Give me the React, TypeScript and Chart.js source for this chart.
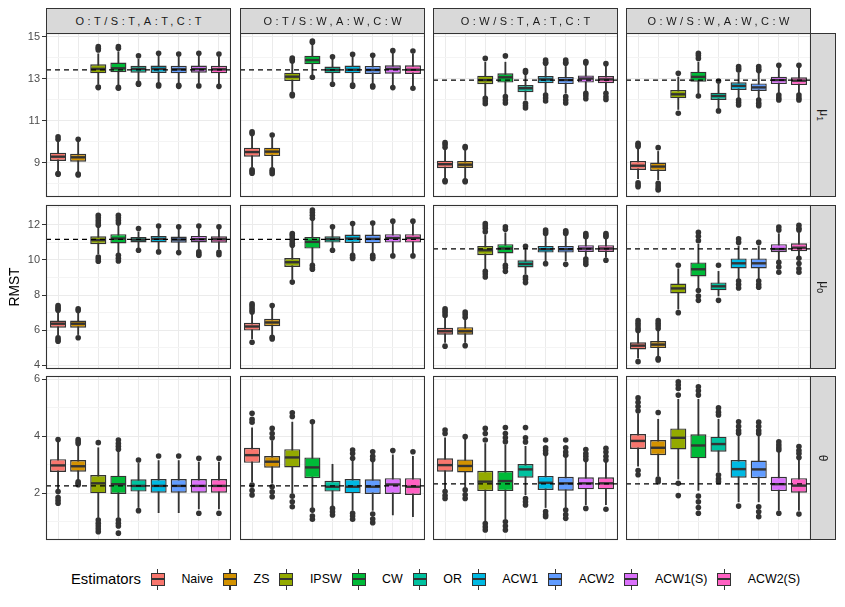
import React, { useEffect, useRef } from "react";
import { Chart, registerables } from "chart.js";

Chart.register(...registerables);
Chart.defaults.font.family = "'Liberation Sans', Arial, sans-serif";

// ---------- data ----------
const estimators = ["Naive", "ZS", "IPSW", "CW", "OR", "ACW1", "ACW2", "ACW1(S)", "ACW2(S)"];
const colors = ["#F8766D", "#D39200", "#93AA00", "#00BA38", "#00C19F", "#00B9E3", "#619CFF", "#DB72FB", "#FF61C3"];
const colLabels = ["O:T/S:T,A:T,C:T", "O:T/S:W,A:W,C:W", "O:W/S:T,A:T,C:T", "O:W/S:W,A:W,C:W"];
const rowSymbols = ["μ", "μ", "θ"];
const rowSubscripts = ["1", "0", ""];
const yAxisTitle = "RMST";
const legendTitle = "Estimators";

const yMin = [7.38, 3.79, 0.36];
const yMax = [15.19, 13.13, 6.12];
const yMajorTicks = [[9, 11, 13, 15], [4, 6, 8, 10, 12], [2, 4, 6]];
const yMinorTicks = [[8, 10, 12, 14], [5, 7, 9, 11, 13], [1, 3, 5]];

// true values (dashed lines), rows x columns
const refRow1 = [13.43, 13.43, 12.95, 12.95];
const refRow2 = [11.17, 11.17, 10.63, 10.63];
const refRow3 = [2.26, 2.26, 2.33, 2.33];

// boxes: [lower whisker, q1, median, q3, upper whisker]
const boxMu1TT = [
  [8.6, 9.1, 9.3, 9.49, 10.05], [8.55, 9.06, 9.27, 9.44, 10.0], [12.75, 13.27, 13.48, 13.7, 14.2],
  [12.7, 13.32, 13.51, 13.78, 14.3], [12.85, 13.3, 13.48, 13.63, 13.95], [12.8, 13.29, 13.48, 13.64, 14.1],
  [12.78, 13.27, 13.46, 13.63, 14.07], [12.8, 13.3, 13.47, 13.64, 14.1], [12.78, 13.27, 13.46, 13.63, 14.07],
];
const outMu1TT = [
  [10.13, 10.25, 8.46, 8.5], [10.13, 8.43, 8.47], [14.38, 14.46, 14.54, 12.59, 12.62],
  [14.54, 14.46, 12.56, 12.6], [14.11, 12.75, 12.79], [14.22, 12.67, 12.72],
  [14.19, 12.65, 12.7], [14.22, 12.67], [14.19, 12.65],
];
const boxMu1TW = [
  [8.8, 9.3, 9.52, 9.73, 10.3], [8.75, 9.33, 9.54, 9.73, 10.2], [12.4, 12.9, 13.11, 13.3, 13.8],
  [13.2, 13.7, 13.9, 14.11, 14.65], [12.85, 13.27, 13.43, 13.59, 13.95], [12.8, 13.27, 13.44, 13.64, 14.05],
  [12.78, 13.24, 13.43, 13.62, 14.0], [12.7, 13.25, 13.48, 13.65, 14.22], [12.68, 13.24, 13.44, 13.65, 14.2],
];
const outMu1TW = [
  [10.49, 10.4, 8.67, 8.51, 8.6], [10.33, 8.67, 8.49, 8.58], [14.0, 13.93, 13.86, 12.27, 12.2],
  [14.81, 14.75, 13.08], [14.06, 12.75], [14.17, 12.71, 12.66],
  [14.13, 12.67, 12.62], [14.35, 12.59], [14.33, 12.56],
];
const boxMu1WT = [
  [8.3, 8.75, 8.94, 9.11, 9.6], [8.25, 8.76, 8.92, 9.1, 9.6], [12.2, 12.75, 12.95, 13.16, 13.8],
  [12.3, 12.83, 13.08, 13.27, 13.8], [12.0, 12.37, 12.56, 12.71, 13.2], [12.35, 12.8, 12.98, 13.14, 13.6],
  [12.32, 12.76, 12.95, 13.1, 13.6], [12.4, 12.83, 13.02, 13.17, 13.65], [12.4, 12.8, 12.98, 13.14, 13.6],
];
const outMu1WT = [
  [9.97, 9.88, 9.75, 8.11, 8.16], [9.78, 9.72, 8.11, 8.15], [13.98, 12.08, 11.95, 11.82],
  [14.1, 12.16, 12.0, 11.86], [13.4, 13.32, 11.84, 11.72, 11.62], [13.9, 13.8, 13.75, 12.24, 12.1, 11.95],
  [13.9, 13.8, 13.75, 12.16, 12.0, 11.86], [13.83, 13.76, 12.32, 12.2, 12.06], [13.73, 12.32, 12.15, 12.02],
];
const boxMu1WW = [
  [8.25, 8.67, 8.87, 9.1, 9.65], [8.2, 8.62, 8.83, 9.02, 9.55], [11.55, 12.08, 12.27, 12.48, 13.1],
  [12.3, 12.87, 13.1, 13.35, 13.8], [11.6, 12.0, 12.19, 12.35, 12.75], [12.1, 12.48, 12.67, 12.84, 13.3],
  [12.05, 12.43, 12.6, 12.79, 13.28], [12.35, 12.76, 12.95, 13.11, 13.55], [12.35, 12.71, 12.92, 13.08, 13.55],
];
const outMu1WW = [
  [9.94, 9.86, 9.78, 8.06, 7.95, 7.87], [9.73, 8.03, 7.9, 7.78, 7.71], [13.27, 11.37],
  [14.22, 14.12, 13.98, 12.19], [12.9, 11.48], [13.59, 13.5, 13.43, 12.0, 11.88, 11.76],
  [13.59, 13.48, 13.4, 12.0, 11.85, 11.73], [13.65, 12.24, 12.1, 12.0], [13.65, 12.24, 12.1, 12.0],
];

const boxMu0TT = [
  [5.7, 6.14, 6.37, 6.55, 7.0], [5.75, 6.14, 6.37, 6.55, 7.0], [10.35, 10.9, 11.13, 11.35, 11.85],
  [10.4, 10.94, 11.22, 11.47, 11.95], [10.7, 11.0, 11.16, 11.31, 11.6], [10.6, 11.0, 11.2, 11.37, 11.8],
  [10.55, 10.98, 11.16, 11.33, 11.75], [10.6, 11.0, 11.18, 11.37, 11.8], [10.6, 10.98, 11.18, 11.35, 11.75],
];
const outMu0TT = [
  [7.41, 7.3, 7.2, 7.13, 5.57, 5.45, 5.37], [7.22, 7.12, 5.57], [12.55, 12.4, 12.25, 12.1, 11.98, 10.17, 10.05, 9.93],
  [12.55, 12.4, 12.25, 12.1, 10.27, 10.1, 9.94], [11.79, 10.55], [11.93, 10.46],
  [11.89, 10.42], [11.93, 10.46, 10.35, 10.27], [11.89, 10.44, 10.3],
];
const boxMu0TW = [
  [5.5, 5.98, 6.21, 6.42, 6.95], [5.75, 6.23, 6.44, 6.65, 7.25], [8.9, 9.6, 9.87, 10.11, 10.75],
  [9.75, 10.65, 11.03, 11.31, 12.2], [10.7, 10.99, 11.18, 11.35, 11.75], [10.35, 10.97, 11.22, 11.45, 11.95],
  [10.35, 10.95, 11.2, 11.45, 11.95], [10.35, 10.99, 11.25, 11.47, 12.05], [10.35, 10.99, 11.25, 11.47, 12.05],
];
const outMu0TW = [
  [7.51, 7.4, 7.28, 7.15, 7.03, 5.31], [7.41, 5.6, 5.5], [11.51, 11.4, 11.25, 11.1, 10.95, 10.84, 8.74],
  [12.84, 12.7, 12.55, 12.37, 9.7, 9.55, 9.47], [11.89, 10.55], [12.08, 10.27, 10.15, 10.08],
  [12.1, 10.27, 10.15, 10.08], [12.21, 10.23], [12.21, 10.23],
];
const boxMu0WT = [
  [5.3, 5.74, 5.94, 6.14, 6.7], [5.3, 5.74, 5.94, 6.17, 6.65], [9.5, 10.27, 10.55, 10.8, 11.4],
  [9.85, 10.37, 10.65, 10.9, 11.55], [9.2, 9.57, 9.77, 9.98, 10.6], [9.95, 10.42, 10.61, 10.8, 11.35],
  [9.95, 10.42, 10.61, 10.8, 11.35], [10.15, 10.46, 10.65, 10.84, 11.25], [10.15, 10.46, 10.65, 10.84, 11.25],
];
const outMu0WT = [
  [7.22, 7.1, 6.98, 6.84, 5.09], [7.03, 6.9, 6.74, 5.12], [12.08, 11.95, 11.8, 11.6, 9.35, 9.2, 9.03],
  [11.89, 11.75, 9.7, 9.55, 9.35], [10.78, 9.03, 8.9, 8.71], [11.7, 11.6, 11.51, 9.79],
  [11.66, 11.58, 11.51, 9.75], [11.51, 11.4, 11.32, 10.05, 9.9, 9.75], [11.51, 11.4, 11.32, 9.98],
];
const boxMu0WW = [
  [4.4, 4.9, 5.12, 5.31, 5.9], [4.55, 4.98, 5.18, 5.38, 5.95], [7.2, 8.09, 8.38, 8.66, 9.5],
  [8.4, 9.06, 9.47, 9.86, 10.9], [7.95, 8.27, 8.5, 8.72, 9.35], [8.9, 9.52, 9.81, 10.09, 10.8],
  [8.9, 9.52, 9.81, 10.09, 10.8], [9.9, 10.44, 10.62, 10.9, 11.5], [10.0, 10.5, 10.7, 10.95, 11.55],
];
const outMu0WW = [
  [6.55, 6.4, 6.25, 6.1, 5.98, 4.21], [6.55, 6.4, 6.25, 6.1, 4.38, 4.3], [9.7, 7.0],
  [11.57, 11.35, 11.1, 8.26, 7.95, 7.7], [9.7, 7.7], [11.2, 11.0, 8.8, 8.6, 8.4],
  [11.0, 8.8, 8.6, 8.45], [11.87, 11.7, 9.86, 9.6, 9.3], [11.98, 11.8, 11.7, 10.1, 9.8, 9.5, 9.3],
];

const boxThTT = [
  [2.15, 2.75, 2.98, 3.2, 3.8], [2.45, 2.76, 2.95, 3.17, 3.7], [1.15, 2.0, 2.35, 2.64, 3.6],
  [1.15, 1.98, 2.32, 2.62, 3.45], [1.5, 2.06, 2.26, 2.49, 3.05], [1.32, 2.02, 2.26, 2.5, 3.15],
  [1.32, 2.02, 2.26, 2.5, 3.15], [1.45, 2.02, 2.26, 2.5, 3.1], [1.45, 2.02, 2.26, 2.5, 3.1],
];
const outThTT = [
  [3.89, 2.06, 1.85, 1.75, 1.65], [3.89, 3.82, 3.75, 2.35, 2.3, 2.4], [3.78, 1.06, 0.95, 0.85, 0.75, 0.65],
  [3.87, 3.75, 3.65, 3.55, 1.06, 0.95, 0.85, 0.6], [3.17, 1.39], [3.31],
  [3.31], [3.23, 1.3], [3.23, 1.3],
];
const boxThTW = [
  [2.4, 3.07, 3.34, 3.6, 4.3], [2.35, 2.9, 3.11, 3.31, 3.85], [2.0, 2.91, 3.26, 3.55, 4.5],
  [1.5, 2.53, 2.91, 3.26, 4.45], [1.55, 2.06, 2.23, 2.44, 3.02], [1.4, 2.0, 2.23, 2.5, 3.15],
  [1.4, 1.98, 2.23, 2.49, 3.1], [1.24, 1.98, 2.31, 2.53, 3.35], [1.18, 1.94, 2.23, 2.53, 3.3],
];
const outThTW = [
  [4.81, 4.6, 4.5, 2.29, 2.1, 1.94], [4.28, 4.1, 3.95, 2.23, 2.05, 1.88], [4.83, 4.7, 1.9, 1.7, 1.53],
  [4.51, 1.41, 1.2, 1.09], [1.47, 1.35, 1.24], [3.52, 3.4, 3.23, 1.3, 1.2, 1.09],
  [3.46, 3.3, 3.19, 1.27, 1.1, 0.97], [3.5], [3.46],
];
const boxThWT = [
  [2.15, 2.76, 2.99, 3.23, 3.95], [2.2, 2.73, 2.96, 3.19, 3.9], [1.0, 2.08, 2.41, 2.79, 3.75],
  [1.1, 2.08, 2.43, 2.78, 3.7], [1.95, 2.55, 2.84, 3.03, 3.65], [1.5, 2.12, 2.37, 2.61, 3.35],
  [1.5, 2.09, 2.35, 2.58, 3.3], [1.6, 2.14, 2.35, 2.56, 3.15], [1.6, 2.14, 2.35, 2.56, 3.15],
];
const outThWT = [
  [4.22, 4.1, 2.06, 1.92, 1.82], [3.99, 2.12, 1.95, 1.82], [4.28, 4.1, 3.87, 0.94, 0.82, 0.71],
  [4.31, 4.1, 3.95, 3.81, 1.0, 0.85, 0.71], [4.31, 3.95, 3.8, 1.82, 1.7, 1.59], [3.87, 3.6, 3.5, 3.4, 1.36, 1.25, 1.18],
  [3.87, 3.6, 3.45, 3.34, 1.41, 1.25, 1.12], [3.54, 3.4, 3.3, 3.19, 1.47], [3.58, 3.45, 3.3, 3.17, 1.44],
];
const boxThWW = [
  [2.95, 3.56, 3.84, 4.08, 4.8], [2.6, 3.34, 3.6, 3.87, 4.6], [2.5, 3.54, 3.95, 4.28, 5.3],
  [2.1, 3.23, 3.68, 4.07, 5.3], [2.75, 3.46, 3.73, 3.99, 4.6], [1.7, 2.55, 2.85, 3.17, 4.0],
  [1.7, 2.53, 2.84, 3.15, 4.0], [1.4, 2.08, 2.32, 2.58, 3.45], [1.4, 2.02, 2.27, 2.53, 3.2],
];
const outThWW = [
  [5.35, 5.2, 5.05, 4.9, 2.8, 2.65], [4.84, 2.5, 2.41], [5.92, 5.8, 5.68, 5.45, 2.35, 1.92],
  [5.74, 5.6, 5.45, 1.9, 1.7, 1.5, 1.3], [5.0, 4.85, 4.75, 2.64, 2.5, 2.41], [4.51, 4.35, 4.2, 4.11, 1.55],
  [4.5, 4.35, 4.2, 4.1, 1.53, 1.35, 1.18], [3.81, 3.7, 3.6, 3.52, 1.3], [3.64, 3.5, 3.4, 3.26, 1.27],
];

const boxGrid = [
  [boxMu1TT, boxMu1TW, boxMu1WT, boxMu1WW],
  [boxMu0TT, boxMu0TW, boxMu0WT, boxMu0WW],
  [boxThTT, boxThTW, boxThWT, boxThWW],
];
const outGrid = [
  [outMu1TT, outMu1TW, outMu1WT, outMu1WW],
  [outMu0TT, outMu0TW, outMu0WT, outMu0WW],
  [outThTT, outThTW, outThWT, outThWW],
];
const refGrid = [refRow1, refRow2, refRow3];

// ---------- layout ----------
const PANEL_LEFT = [46, 240, 433, 626];
const PANEL_TOP = [33, 205, 376];
const PANEL_W = 185;
const PANEL_H = 164;
const AXIS_W = 46;
const PAD = 14;
const FONT = "'Liberation Sans', Arial, sans-serif";

const borderPlugin = {
  id: "panelBorder",
  afterDraw(chart: any) {
    const { ctx, chartArea: a } = chart;
    ctx.save();
    ctx.strokeStyle = "#333333";
    ctx.lineWidth = 1.1;
    ctx.strokeRect(a.left + 0.5, a.top + 0.5, a.right - a.left - 1, a.bottom - a.top - 1);
    ctx.restore();
  },
};

function Panel({ row, col }: { row: number; col: number }) {
  const ref = useRef<HTMLCanvasElement>(null);
  const isLeft = col === 0;
  const width = PANEL_W + (isLeft ? AXIS_W : 0);
  const height = PANEL_H + 2 * PAD;

  useEffect(() => {
    const boxes = boxGrid[row][col];
    const outs = outGrid[row][col];
    const refVal = refGrid[row][col];
    const major = yMajorTicks[row];
    const minor = yMinorTicks[row];
    const allTicks = [...major, ...minor].sort((a, b) => a - b);
    const xVals = estimators.map((_, i) => i + 1);

    const outlierPts: { x: number; y: number }[] = [];
    outs.forEach((list, i) => list.forEach((v) => outlierPts.push({ x: i + 1, y: v })));

    const chart = new Chart(ref.current as HTMLCanvasElement, {
      type: "bar",
      data: {
        datasets: [
          {
            type: "line",
            data: [{ x: 0.4, y: refVal }, { x: 9.6, y: refVal }],
            borderColor: "#000000",
            borderWidth: 1.3,
            borderDash: [5, 4],
            pointRadius: 0,
            order: 0,
          } as any,
          {
            type: "scatter",
            data: boxes.map((b, i) => ({ x: i + 1, y: b[2] })),
            pointStyle: "line",
            pointRadius: 7.4,
            pointBorderWidth: 2.4,
            pointBorderColor: "#333333",
            borderColor: "#333333",
            order: 1,
          } as any,
          {
            type: "bar",
            data: boxes.map((b, i) => ({ x: i + 1, y: [b[1], b[3]] })),
            backgroundColor: colors,
            borderColor: "#333333",
            borderWidth: 1.4,
            borderSkipped: false,
            grouped: false,
            barPercentage: 0.8,
            categoryPercentage: 1,
            order: 2,
          } as any,
          {
            type: "scatter",
            data: outlierPts,
            pointRadius: 2.8,
            pointBackgroundColor: "#333333",
            pointBorderWidth: 0,
            order: 3,
          } as any,
          {
            type: "bar",
            data: boxes.map((b, i) => ({ x: i + 1, y: [b[0], b[4]] })),
            backgroundColor: "#333333",
            borderWidth: 0,
            barThickness: 1.2,
            grouped: false,
            order: 4,
          } as any,
        ],
      },
      options: {
        animation: false,
        responsive: false,
        maintainAspectRatio: false,
        events: [],
        layout: { autoPadding: false, padding: { top: PAD, bottom: PAD, left: 0, right: 0 } },
        plugins: { legend: { display: false }, tooltip: { enabled: false } },
        scales: {
          x: {
            type: "linear",
            min: 0.4,
            max: 9.6,
            offset: false,
            afterBuildTicks: (s: any) => {
              s.ticks = xVals.map((v) => ({ value: v }));
            },
            afterFit: (s: any) => {
              s.height = 0;
            },
            ticks: { display: false, autoSkip: false },
            grid: { color: "#EBEBEB", lineWidth: 1, drawTicks: false, offset: false },
            border: { display: false },
          },
          y: {
            type: "linear",
            min: yMin[row],
            max: yMax[row],
            afterBuildTicks: (s: any) => {
              s.ticks = allTicks.map((v) => ({ value: v }));
            },
            afterFit: (s: any) => {
              s.width = isLeft ? AXIS_W : 0;
            },
            ticks: {
              display: isLeft,
              autoSkip: false,
              padding: 2,
              color: "#4D4D4D",
              font: { family: FONT, size: 11 },
              callback: (v: any) => (major.includes(Number(v)) ? String(v) : ""),
            },
            grid: {
              color: (c: any) => (c.tick && major.includes(c.tick.value) ? "#EBEBEB" : "#F4F4F4"),
              lineWidth: 1,
              drawTicks: isLeft,
              tickLength: 4,
              tickWidth: 1,
              tickColor: (c: any) => (c.tick && major.includes(c.tick.value) ? "#333333" : "rgba(0,0,0,0)"),
            },
            border: { display: false },
          },
        },
      },
      plugins: [borderPlugin],
    });
    return () => chart.destroy();
  }, [row, col, isLeft]);

  return (
    <canvas
      ref={ref}
      width={width}
      height={height}
      style={{
        position: "absolute",
        left: PANEL_LEFT[col] - (isLeft ? AXIS_W : 0),
        top: PANEL_TOP[row] - PAD,
        width,
        height,
      }}
    />
  );
}

function LegendKey({ color }: { color: string }) {
  return (
    <div style={{ position: "relative", width: 14, height: 21, flex: "0 0 auto" }}>
      <div style={{ position: "absolute", left: 6.4, top: 0, width: 1.2, height: 4, background: "#333" }} />
      <div
        style={{
          position: "absolute",
          left: 0,
          top: 4,
          width: 14,
          height: 13,
          boxSizing: "border-box",
          border: "1.3px solid #333",
          background: color,
        }}
      />
      <div style={{ position: "absolute", left: 1, top: 9.6, width: 12, height: 1.8, background: "#333" }} />
      <div style={{ position: "absolute", left: 6.4, top: 17, width: 1.2, height: 4, background: "#333" }} />
    </div>
  );
}

export default function App() {
  const panels: JSX.Element[] = [];
  for (let r = 0; r < 3; r++) for (let c = 0; c < 4; c++) panels.push(<Panel key={`${r}-${c}`} row={r} col={c} />);

  return (
    <div
      style={{
        position: "absolute",
        left: 0,
        top: 0,
        width: 845,
        height: 607,
        background: "#FFFFFF",
        fontFamily: FONT,
        overflow: "hidden",
      }}
    >
      {panels}
      {colLabels.map((lab, c) => (
        <div
          key={lab}
          style={{
            position: "absolute",
            left: PANEL_LEFT[c],
            top: 8,
            width: PANEL_W,
            height: 26,
            boxSizing: "border-box",
            border: "1.1px solid #333",
            background: "#D9D9D9",
            color: "#1A1A1A",
            fontSize: 11,
            letterSpacing: 3.5,
            paddingLeft: 3.5,
            display: "flex",
            alignItems: "center",
            justifyContent: "center",
          }}
        >
          {lab}
        </div>
      ))}
      {rowSymbols.map((sym, r) => (
        <div
          key={r}
          style={{
            position: "absolute",
            left: PANEL_LEFT[3] + PANEL_W - 1,
            top: PANEL_TOP[r],
            width: 26,
            height: PANEL_H,
            boxSizing: "border-box",
            border: "1.1px solid #333",
            background: "#D9D9D9",
            color: "#1A1A1A",
            display: "flex",
            alignItems: "center",
            justifyContent: "center",
          }}
        >
          <span style={{ transform: "rotate(90deg)", fontSize: 12, whiteSpace: "nowrap", display: "inline-block" }}>
            {sym}
            {rowSubscripts[r] ? <sub style={{ fontSize: 8.5 }}>{rowSubscripts[r]}</sub> : null}
          </span>
        </div>
      ))}
      <div
        style={{
          position: "absolute",
          left: 14 - 30,
          top: 287 - 10,
          width: 60,
          height: 20,
          display: "flex",
          alignItems: "center",
          justifyContent: "center",
          transform: "rotate(-90deg)",
          fontSize: 13.8,
          color: "#000",
        }}
      >
        {yAxisTitle}
      </div>
      <div
        style={{
          position: "absolute",
          left: 71,
          top: 568,
          height: 22,
          display: "flex",
          alignItems: "center",
          whiteSpace: "nowrap",
        }}
      >
        <span style={{ fontSize: 14.8, color: "#000", marginRight: 10 }}>{legendTitle}</span>
        {estimators.map((e, i) => (
          <div key={e} style={{ display: "flex", alignItems: "center", marginRight: 10 }}>
            <LegendKey color={colors[i]} />
            <span style={{ fontSize: 12.4, color: "#000", marginLeft: 16.5 }}>{e}</span>
          </div>
        ))}
      </div>
    </div>
  );
}
